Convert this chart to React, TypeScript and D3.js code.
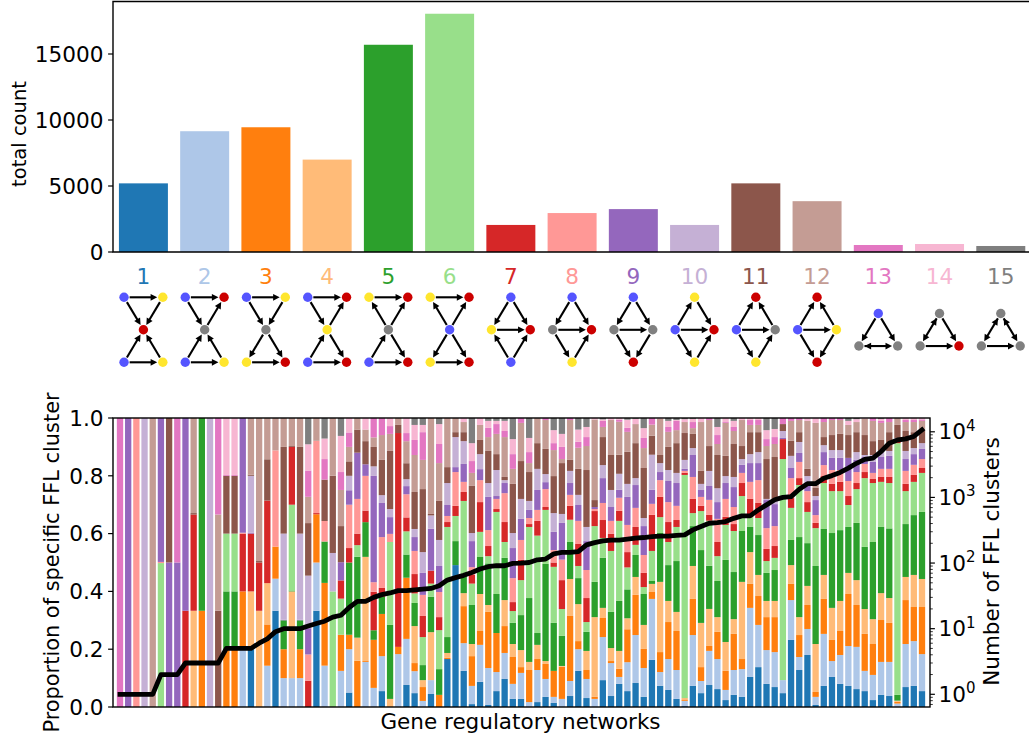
import React from "react";
import * as d3 from "d3";

const tab20 = ["#1f77b4","#aec7e8","#ff7f0e","#ffbb78","#2ca02c","#98df8a","#d62728","#ff9896","#9467bd","#c5b0d5","#8c564b","#c49c94","#e377c2","#f7b6d2","#7f7f7f"];
const clusterLabels = ["1","2","3","4","5","6","7","8","9","10","11","12","13","14","15"];
const totalCounts = [5200,9150,9450,7000,15700,18050,2050,2950,3250,2050,5200,3850,530,606,455];
const countTicks = [0,5000,10000,15000];
const shareTicks = [0,0.2,0.4,0.6,0.8,1];
const logExponents = [0,1,2,3,4];

// number of FFL clusters per network
const clusterCounts = [1,1,1,1,1,2,2,2,3,3,3,3,3,5,5,5,5,6,7,9,10,10,10,11,12,13,15,16,21,26,26,30,33,35,38,38,39,40,41,45,55,60,65,72,81,88,91,91,99,100,102,112,115,138,145,145,149,189,205,218,224,224,231,239,245,253,258,258,265,269,320,360,404,414,429,480,523,523,645,770,920,1000,1030,1330,1620,1620,1960,2150,2400,2790,3310,3800,3980,5000,6700,7500,7800,8500,10700];

// share (per mille) of clusters 1..15 in each network
const sharesA = [
[0,0,0,0,0,0,0,0,0,0,0,0,1000,0,0],
[0,0,0,0,0,0,0,0,1000,0,0,0,0,0,0],
[0,0,0,0,0,0,0,1000,0,0,0,0,0,0,0],
[0,0,0,0,0,0,0,0,0,1000,0,0,0,0,0],
[0,0,0,0,0,0,0,0,0,0,0,1000,0,0,0],
[0,0,0,0,0,498,0,4,498,0,0,0,0,0,0],
[0,0,0,0,0,0,0,0,500,0,500,0,0,0,0],
[0,0,0,0,0,0,0,0,500,0,0,0,500,0,0],
[0,0,0,0,0,0,333,0,667,0,0,0,0,0,0],
[0,0,0,333,0,0,333,0,0,0,5,329,0,0,0],
[0,0,333,0,667,0,0,0,0,0,0,0,0,0,0],
[0,0,0,0,0,0,0,0,0,1000,0,0,0,0,0],
[0,0,0,0,0,0,0,0,0,0,333,333,334,0,0],
[0,0,200,0,200,200,0,0,0,0,200,0,3,197,0],
[0,0,200,0,200,200,0,0,0,0,200,0,3,197,0],
[0,200,200,0,0,0,200,3,397,0,0,0,0,0,0],
[200,0,0,200,0,0,200,0,3,197,4,196,0,0,0],
[0,0,0,333,0,0,167,0,0,0,5,495,0,0,0],
[0,143,143,143,0,0,286,0,0,0,143,143,0,0,0],
[333,111,111,0,0,0,0,333,0,0,0,112,0,0,0],
[0,100,100,0,100,0,0,0,2,298,300,100,0,0,0],
[0,100,0,300,3,297,200,0,0,0,3,97,0,0,0],
[0,100,100,0,100,0,0,0,2,298,300,100,0,0,0],
[0,0,0,0,0,0,91,91,91,182,182,91,91,91,91],
[333,167,167,0,0,0,4,250,0,0,0,79,0,0,0],
];
const sharesB = [
[0,143,286,0,143,0,0,71,0,0,143,0,71,71,71],
[0,0,0,0,0,400,0,0,0,133,267,200,0,0,0],
[0,125,125,0,0,125,63,0,63,0,125,125,62,125,62],
[50,150,50,0,250,0,50,150,50,50,50,50,50,50,0],
[0,0,160,80,280,40,40,120,160,0,80,40,0,0,0],
[0,156,3,360,120,0,40,120,40,0,80,40,0,40,0],
[0,66,166,0,33,0,133,33,367,33,67,33,67,0,0],
[55,121,146,0,59,0,31,176,118,27,122,86,59,0,0],
[0,0,0,28,256,287,0,28,58,28,201,59,27,28,0],
[0,183,25,0,0,0,740,0,0,0,28,24,0,0,0],
[76,159,211,0,80,80,48,80,28,24,55,76,28,52,0],
[48,76,28,128,80,33,67,80,48,28,128,128,52,52,24],
[0,21,48,24,52,97,73,73,76,72,218,101,96,25,24],
[45,48,0,166,122,46,45,0,145,46,5,332,0,0,0],
[0,0,42,0,89,135,45,87,90,90,135,131,66,69,21],
[166,0,4,17,55,381,17,21,38,76,55,170,0,0,0],
[491,0,0,0,83,87,35,117,17,104,17,49,0,0,0],
[125,96,128,45,66,253,31,35,62,79,31,35,0,14,0],
[10,63,103,42,135,74,30,27,90,28,163,45,41,62,87],
[87,128,48,128,128,87,103,76,38,52,49,52,0,24,0],
[7,128,194,24,144,25,35,55,115,48,111,48,32,24,10],
[55,66,135,0,135,284,10,35,10,90,55,70,34,11,10],
[97,90,93,90,146,55,69,100,35,10,11,138,21,35,10],
[28,52,93,45,73,41,31,83,104,52,170,52,51,52,73],
[28,90,20,59,121,121,70,69,73,69,131,132,17,0,0],
];
const sharesC = [
[0,17,111,28,221,246,10,21,28,31,100,31,38,49,69],
[17,111,38,49,41,337,51,38,69,73,89,87,0,0,0],
[35,62,52,10,336,187,10,62,24,28,87,100,7,0,0],
[14,21,90,0,166,194,15,43,63,65,128,90,24,45,42],
[0,28,111,3,104,93,100,71,127,31,176,14,42,45,55],
[38,52,225,128,128,77,48,38,41,42,38,138,7,0,0],
[125,75,28,128,90,42,76,80,55,35,90,73,21,42,40],
[31,66,31,66,66,34,83,97,100,49,197,83,31,35,31],
[0,28,7,276,122,193,52,7,7,0,24,279,0,5,0],
[93,149,66,35,173,69,62,59,86,45,97,35,21,5,5],
[38,114,7,45,125,211,59,45,48,59,121,121,0,7,0],
[80,24,28,62,173,277,35,45,28,55,66,114,7,6,0],
[55,100,114,38,100,76,53,94,97,45,111,69,14,28,6],
[83,166,139,62,76,35,62,66,79,24,121,66,0,18,3],
[35,100,66,83,107,24,49,62,100,28,173,69,35,34,35],
[163,211,24,28,10,104,125,38,49,121,66,38,23,0,0],
[73,48,69,243,169,55,70,58,28,31,28,125,0,3,0],
[59,107,128,73,124,80,69,69,73,38,80,52,17,21,10],
[28,100,135,66,176,118,24,49,79,35,103,45,32,3,7],
[3,18,3,7,0,772,7,7,7,31,93,38,0,10,4],
[73,176,125,114,138,45,49,76,76,24,49,20,21,11,3],
[48,42,48,153,252,135,18,31,24,21,45,169,0,14,0],
[76,118,17,128,149,156,20,52,48,52,86,90,7,0,0],
[62,104,94,51,125,86,49,80,58,48,115,38,31,28,31],
[24,35,66,100,284,121,28,62,55,24,70,114,3,14,0],
];
const sharesD = [
[42,86,125,51,163,142,24,59,69,35,114,45,14,21,10],
[35,96,35,267,176,121,45,35,28,20,45,90,0,7,0],
[104,239,83,110,87,34,63,59,65,31,76,25,17,7,0],
[138,146,100,73,138,59,52,79,59,38,69,25,17,7,0],
[80,117,114,56,97,41,42,72,97,4,138,45,24,31,42],
[69,121,121,56,107,42,41,69,76,14,149,45,24,28,38],
[48,45,0,0,0,765,69,0,4,24,24,0,21,0,0],
[232,138,56,65,87,111,34,69,35,42,52,69,10,0,0],
[128,45,76,62,277,180,24,56,31,38,34,42,7,0,0],
[180,90,83,66,148,108,34,38,20,32,25,166,0,10,0],
[7,28,17,166,270,131,18,27,52,14,28,225,0,17,0],
[73,180,121,83,159,159,24,38,45,24,28,52,14,0,0],
[104,55,73,111,259,145,25,48,42,27,52,52,7,0,0],
[80,100,83,104,245,135,32,41,42,27,56,48,7,0,0],
[73,138,180,73,159,76,31,52,80,0,79,35,0,14,10],
[62,146,145,86,198,117,21,38,42,27,69,35,0,10,4],
[55,70,128,86,215,238,21,28,24,7,69,56,0,3,0],
[24,87,107,86,267,204,14,21,38,24,48,70,10,0,0],
[42,114,145,93,229,156,17,28,41,21,38,59,7,7,3],
[38,118,135,86,241,157,21,28,45,17,65,35,14,0,0],
[0,12,6,4,20,871,4,4,6,4,45,24,0,0,0],
[69,149,152,80,183,114,25,45,41,28,69,31,7,7,0],
[73,155,118,111,207,115,24,35,37,21,55,35,7,7,0],
[55,128,163,97,232,135,17,31,35,20,42,35,5,5,0],
];

// motif diagrams: nodes in layout units, colour key, directed edges
const BLUE = "#5555ff", YEL = "#ffe62e", RED = "#cc0000", GRY = "#808080";
type Motif = { nodes: [number, number, string][]; edges: [number, number, boolean?][] };
const hg = (tl: string, tr: string, c: string, bl: string, br: string): [number, number, string][] => [[-1,1,tl],[1,1,tr],[0,0,c],[-1,-1,bl],[1,-1,br]];
const dm = (t: string, l: string, r: string, b: string): [number, number, string][] => [[0,1,t],[-1,0,l],[1,0,r],[0,-1,b]];
const tr3 = (t: string, l: string, r: string): [number, number, string][] => [[0,0.5,t],[-1,-0.5,l],[1,-0.5,r]];
const motifs: Motif[] = [
  { nodes: hg(BLUE,YEL,RED,BLUE,YEL), edges: [[0,1],[0,2],[1,2],[3,4],[3,2],[4,2]] },
  { nodes: hg(BLUE,RED,GRY,BLUE,YEL), edges: [[0,1],[0,2],[2,1],[3,4],[3,2],[4,2]] },
  { nodes: hg(BLUE,YEL,GRY,YEL,RED), edges: [[0,1],[0,2],[1,2],[2,3],[2,4],[3,4]] },
  { nodes: hg(BLUE,RED,YEL,BLUE,RED), edges: [[0,1],[0,2],[2,1],[3,4],[3,2],[2,4]] },
  { nodes: hg(YEL,RED,GRY,BLUE,RED), edges: [[0,1],[2,0],[2,1],[3,4],[3,2],[2,4]] },
  { nodes: hg(YEL,RED,BLUE,YEL,RED), edges: [[0,1],[2,0],[2,1],[3,4],[2,3],[2,4]] },
  { nodes: dm(BLUE,YEL,RED,BLUE), edges: [[0,1],[0,2],[1,2],[3,1],[3,2]] },
  { nodes: dm(BLUE,GRY,RED,YEL), edges: [[0,1],[0,2],[1,2],[1,3],[3,2]] },
  { nodes: dm(BLUE,GRY,GRY,RED), edges: [[0,1],[0,2],[1,2],[1,3],[2,3]] },
  { nodes: dm(YEL,BLUE,RED,YEL), edges: [[1,0],[0,2],[1,2],[1,3],[3,2]] },
  { nodes: dm(RED,BLUE,GRY,YEL), edges: [[1,0],[2,0],[1,2],[1,3],[3,2]] },
  { nodes: dm(RED,BLUE,YEL,RED), edges: [[1,0],[2,0],[1,2],[1,3],[2,3]] },
  { nodes: tr3(BLUE,GRY,GRY), edges: [[0,1],[0,2],[1,2,true]] },
  { nodes: tr3(GRY,GRY,RED), edges: [[0,1,true],[0,2],[1,2]] },
  { nodes: tr3(GRY,GRY,GRY), edges: [[0,1,true],[0,2,true],[1,2]] },
];

const FONT = "'DejaVu Sans'";
const FS = 21.6;
const LS = 21.5;

function head(x: number, y: number, ux: number, uy: number) {
  const L = 6.6, W = 3.4;
  const bx = x - ux * L, by = y - uy * L;
  return `${x},${y} ${bx - uy * W},${by + ux * W} ${bx + uy * W},${by - ux * W}`;
}

export default function App() {
  const W = 1029, H = 736;
  // top panel
  const topL = 113, topT = 1.5, topB = 252;
  const xTop = d3.scaleBand<string>().domain(clusterLabels).range([112.8, 1031.4]).paddingInner(0.2).paddingOuter(0.1);
  const yTop = d3.scaleLinear().domain([0, 5000]).range([topB, 186]);
  // bottom panel
  const L = 113, R = 930, T = 418, B = 707;
  const rows = [...sharesA, ...sharesB, ...sharesC, ...sharesD];
  const idx = d3.range(rows.length);
  const x = d3.scaleLinear().domain([0, rows.length - 1]).range([120, 922]);
  const bw = 0.77 * (x(1) - x(0));
  const y = d3.scaleLinear().domain([0, 1]).range([B, T]);
  const yLog = d3.scaleLog().domain([1, 10000]).range([694.3, 431.8]);
  const stack = d3.stack<number[], number>().keys(d3.range(15)).value((d, k) => d[k]).offset(d3.stackOffsetExpand);
  const layers = stack(rows);
  const line = d3.line<number>().x((i) => x(i)).y((i) => yLog(clusterCounts[i]));
  // motif layout
  const mx = d3.scaleLinear().domain([-1, 1]).range([-19.4, 19.4]);
  const my = d3.scaleLinear().domain([-1, 1]).range([362.3, 297.3]);
  const minor: number[] = [];
  [-1, 0, 1, 2, 3, 4].forEach((e) => d3.range(2, 10).forEach((m) => {
    const v = m * Math.pow(10, e);
    const py = yLog(v);
    if (py >= T && py <= B) minor.push(v);
  }));
  return (
    <svg width={W} height={H} viewBox={`0 0 ${W} ${H}`} style={{ position: "absolute", left: 0, top: 0, background: "#fff" }} fontFamily={FONT}>
      {/* top panel */}
      {clusterLabels.map((c, i) => (
        <rect key={c} x={xTop(c)} width={xTop.bandwidth()} y={yTop(totalCounts[i])} height={topB - yTop(totalCounts[i])} fill={tab20[i]} />
      ))}
      <path d={`M${W + 2},${topT}H${topL}V${topB}H${W + 2}`} fill="none" stroke="#000" strokeWidth={1.4} />
      {countTicks.map((t) => (
        <g key={t}>
          <line x1={topL - 4.9} x2={topL} y1={yTop(t)} y2={yTop(t)} stroke="#000" strokeWidth={1.2} />
          <text x={topL - 9.5} y={yTop(t)} dy="0.36em" textAnchor="end" fontSize={FS}>{t}</text>
        </g>
      ))}
      <text transform={`translate(26,134) rotate(-90)`} textAnchor="middle" fontSize={19.5}>total count</text>

      {/* motifs */}
      {motifs.map((m, i) => {
        const cx = xTop(clusterLabels[i])! + xTop.bandwidth() / 2;
        const pts = m.nodes.map(([a, b, col]) => ({ x: cx + mx(a), y: my(b), col }));
        return (
          <g key={i}>
            <text x={cx} y={276} dy="0.36em" textAnchor="middle" fontSize={FS} fill={tab20[i]}>{clusterLabels[i]}</text>
            {m.edges.map(([a, b, both], k) => {
              const p = pts[a], q = pts[b];
              const d = Math.hypot(q.x - p.x, q.y - p.y);
              const ux = (q.x - p.x) / d, uy = (q.y - p.y) / d;
              const sh = 5.6;
              const x2 = q.x - ux * sh, y2 = q.y - uy * sh;
              const x1 = p.x + ux * sh, y1 = p.y + uy * sh;
              return (
                <g key={k}>
                  <line x1={x1} y1={y1} x2={x2 - ux * 4} y2={y2 - uy * 4} stroke="#000" strokeWidth={2.1} />
                  <polygon points={head(x2, y2, ux, uy)} fill="#000" />
                  {both && <polygon points={head(x1, y1, -ux, -uy)} fill="#000" />}
                </g>
              );
            })}
            {pts.map((p, k) => <circle key={k} cx={p.x} cy={p.y} r={4.7} fill={p.col} />)}
          </g>
        );
      })}

      {/* bottom panel */}
      {layers.map((layer, k) => (
        <g key={k} fill={tab20[k]}>
          {idx.map((i) => {
            const v = layer[i];
            if (v[1] - v[0] <= 0) return null;
            return <rect key={i} x={x(i) - bw / 2} width={bw} y={y(v[1])} height={y(v[0]) - y(v[1])} />;
          })}
        </g>
      ))}
      <path d={line(idx)!} fill="none" stroke="#000" strokeWidth={4.8} strokeLinejoin="round" strokeLinecap="square" />
      <rect x={L} y={T} width={R - L} height={B - T} fill="none" stroke="#000" strokeWidth={1.4} />
      {shareTicks.map((t) => (
        <g key={t}>
          <line x1={L - 4.9} x2={L} y1={y(t)} y2={y(t)} stroke="#000" strokeWidth={1.2} />
          <text x={L - 9.5} y={y(t)} dy="0.36em" textAnchor="end" fontSize={FS}>{t.toFixed(1)}</text>
        </g>
      ))}
      {logExponents.map((e) => {
        const py = yLog(Math.pow(10, e));
        return (
          <g key={e}>
            <line x1={R} x2={R + 4.9} y1={py} y2={py} stroke="#000" strokeWidth={1.2} />
            <text x={R + 8.5} y={py + 7.5} fontSize={FS}>10<tspan dy={-8.5} fontSize={15}>{e}</tspan></text>
          </g>
        );
      })}
      {minor.map((v) => (
        <line key={v} x1={R} x2={R + 2.8} y1={yLog(v)} y2={yLog(v)} stroke="#000" strokeWidth={0.8} />
      ))}
      <text transform={`translate(59,562.5) rotate(-90)`} textAnchor="middle" fontSize={20.9}>Proportion of specific FFL cluster</text>
      <text transform={`translate(999,561.5) rotate(-90)`} textAnchor="middle" fontSize={LS}>Number of FFL clusters</text>
      <text x={520.5} y={729} textAnchor="middle" fontSize={LS}>Gene regulatory networks</text>
    </svg>
  );
}
